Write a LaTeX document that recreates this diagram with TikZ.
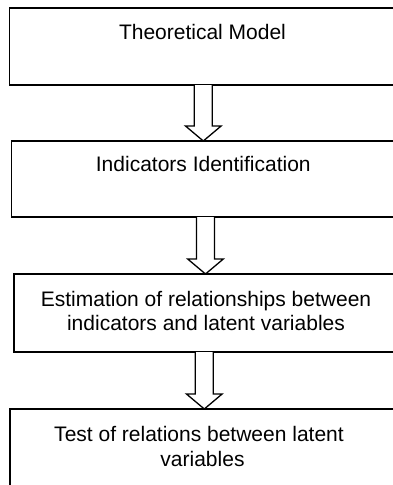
\documentclass[tikz,border=0pt]{standalone}
\usepackage{fontspec}
\setmainfont{Liberation Sans}
\begin{document}
\begin{tikzpicture}[x=1pt,y=-1pt,
  box/.style={draw=black, line width=1.6pt, rectangle, inner sep=0pt, outer sep=0pt, anchor=north west},
  txt/.style={font=\fontsize{21}{24}\selectfont, align=center, anchor=base, inner sep=0pt, text=black},
  blockarrow/.style={draw=black, line width=1.3pt, line join=miter, fill=white}]
\useasboundingbox (0,0) rectangle (393,485);
% boxes
\node[box, minimum width=386.5pt, minimum height=77pt] (b1) at (9.5,8) {};
\node[box, minimum width=384.5pt, minimum height=76pt] (b2) at (11.5,141) {};
\node[box, minimum width=382pt, minimum height=78pt] (b3) at (14,274) {};
\node[box, minimum width=386pt, minimum height=90pt] (b4) at (10,409) {};
% texts
\node[txt] (t1) at (202.5,39.3) {Theoretical Model};
\node[txt] (t2) at (203.3,171.7) {Indicators Identification};
\node[txt] (t3) at (206,306.7) {Estimation of relationships between};
\node[txt] (t3b) at (206,330.7) {indicators and latent variables};
\node[txt] (t4) at (199,441.7) {Test of relations between latent};
\node[txt] (t4b) at (202.5,466) {variables};
% block arrows
\newcommand{\myblockarrow}[3]{%
  \path (#3.north) ++(0,-15) coordinate (hb);
  \draw[blockarrow]
    ({#1-9},0 |- #2.south) -- ({#1-9},0 |- hb)
    -- ({#1-17.8},0 |- hb) -- (#1,0 |- #3.north)
    -- ({#1+17.8},0 |- hb) -- ({#1+9},0 |- hb)
    -- ({#1+9},0 |- #2.south);}
\myblockarrow{203.3}{b1}{b2}
\myblockarrow{205.5}{b2}{b3}
\myblockarrow{204.3}{b3}{b4}
\end{tikzpicture}
\end{document}
